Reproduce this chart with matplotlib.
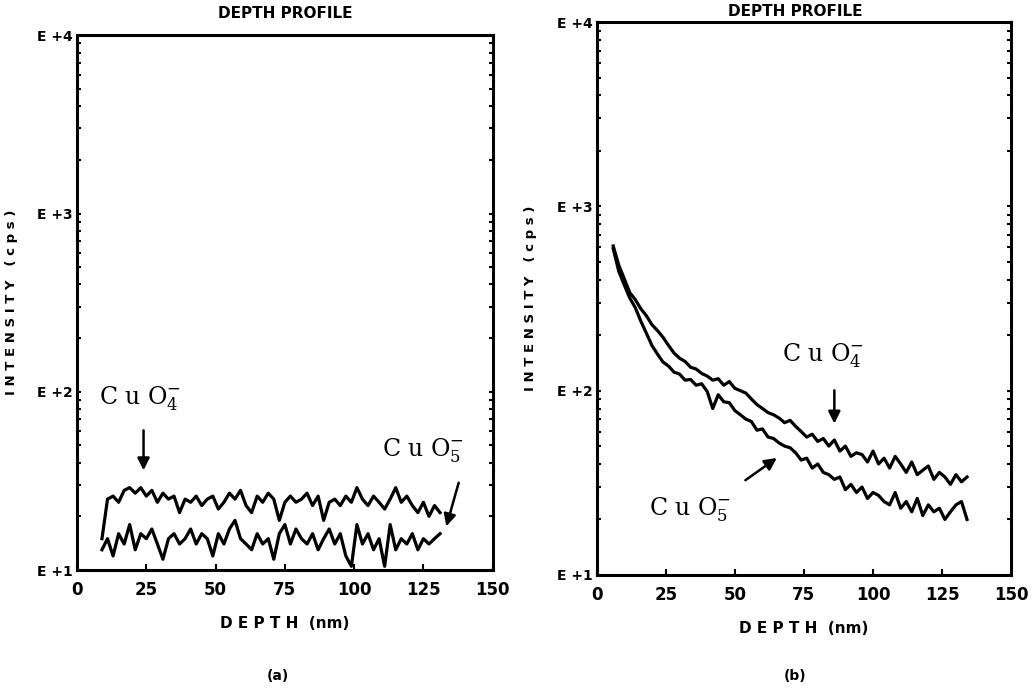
import numpy as np
import matplotlib
matplotlib.use("Agg")
import matplotlib.pyplot as plt
from matplotlib.ticker import FixedLocator, FixedFormatter, LogLocator, NullFormatter

plt.rcParams['font.family'] = ['Liberation Sans Narrow', 'DejaVu Sans']
plt.rcParams['mathtext.fontset'] = 'custom'
plt.rcParams['mathtext.rm'] = 'DejaVu Serif'
plt.rcParams['mathtext.it'] = 'DejaVu Serif'

# panel (a): flat profiles
depth_a = np.arange(9, 132, 2)
cuo4_a = [15, 25, 26, 24, 28, 29, 27, 29, 26, 28,
          24, 27, 25, 26, 21, 25, 24, 26, 23, 25,
          26, 22, 24, 27, 25, 28, 23, 21, 26, 24,
          27, 25, 19, 24, 26, 24, 25, 27, 23, 26,
          19, 24, 25, 23, 26, 24, 29, 25, 23, 26,
          24, 22, 25, 29, 24, 26, 23, 21, 24, 20,
          23, 21]
cuo5_a = [13, 15, 12, 16, 14, 18, 13, 16, 15, 17,
          14, 11.5, 15, 16, 14, 15, 17, 14, 16, 15,
          12, 16, 14, 17, 19, 15, 14, 13, 16, 14,
          15, 11.5, 16, 18, 14, 17, 15, 14, 16, 13,
          15, 17, 14, 16, 12, 10.5, 18, 14, 16, 13,
          15, 10.5, 18, 13, 15, 14, 16, 13, 15, 14,
          15, 16]

# panel (b): decaying profiles
depth_b = np.arange(6, 135, 2)
cuo4_b = [610, 480, 405, 340, 312, 278, 255, 228, 212, 195,
          176, 160, 150, 144, 134, 131, 124, 120, 114, 116,
          107, 112, 103, 100, 97, 90, 84, 80, 76, 74,
          71, 67, 69, 64, 60, 56, 58, 53, 55, 50,
          54, 47, 50, 44, 46, 45, 41, 47, 40, 43,
          38, 44, 40, 36, 41, 35, 37, 39, 33, 36,
          34, 31, 35, 32, 34]
cuo5_b = [590, 445, 375, 318, 282, 238, 205, 176, 158, 143,
          136, 126, 123, 114, 115, 107, 109, 99, 80, 95,
          87, 86, 78, 74, 70, 68, 61, 62, 56, 55,
          52, 50, 49, 46, 42, 43, 38, 40, 36, 35,
          33, 34, 29, 31, 28, 30, 26, 28, 27, 25,
          24, 28, 23, 25, 22, 26, 21, 24, 22, 23,
          20, 22, 24, 25, 20]

x_ticks = [0, 25, 50, 75, 100, 125, 150]
y_ticks = [10, 100, 1000, 10000]
y_tick_labels = ['E +1', 'E +2', 'E +3', 'E +4']

fig = plt.figure(figsize=(10.34, 6.91), dpi=100)
ax_a = fig.add_axes([0.0745, 0.175, 0.402, 0.774])
ax_b = fig.add_axes([0.577, 0.168, 0.401, 0.800])


def style_axes(ax):
    ax.set_yscale('log')
    ax.set_xlim(0, 150)
    ax.set_ylim(10, 10000)
    for s in ax.spines.values():
        s.set_linewidth(2.2)
    ax.xaxis.set_major_locator(FixedLocator(x_ticks))
    ax.yaxis.set_major_locator(FixedLocator(y_ticks))
    ax.yaxis.set_major_formatter(FixedFormatter(y_tick_labels))
    ax.yaxis.set_minor_locator(LogLocator(base=10, subs=np.arange(2, 10)))
    ax.yaxis.set_minor_formatter(NullFormatter())
    ax.tick_params(axis='x', direction='in', length=4, width=1.5, pad=8,
                   labelsize=12, top=False)
    ax.tick_params(axis='y', which='both', direction='in', length=3, width=1.5,
                   right=True, pad=3, labelsize=10)
    for lab in ax.get_xticklabels() + ax.get_yticklabels():
        lab.set_fontweight('bold')
    ax.set_xlabel('D E P T H  (nm)', fontsize=11, fontweight='bold', labelpad=12)
    ax.set_ylabel('I N T E N S I T Y   ( c p s )', fontsize=9.5,
                  fontweight='bold', labelpad=14)


style_axes(ax_a)
style_axes(ax_b)

ax_a.plot(depth_a, cuo4_a, color='black', lw=2.3)
ax_a.plot(depth_a, cuo5_a, color='black', lw=2.3)
ax_b.plot(depth_b, cuo4_b, color='black', lw=2.3)
ax_b.plot(depth_b, cuo5_b, color='black', lw=2.3)

lab_kw = dict(fontsize=17, family='DejaVu Serif', color='black')
arr_kw = dict(arrowstyle='-|>', color='black', lw=1.8, mutation_scale=18)

ax_a.text(8, 92, 'C u O$_{4}^{-}$', ha='left', va='center', **lab_kw)
ax_a.annotate('', xy=(24, 35), xytext=(24, 63), arrowprops=arr_kw)
ax_a.text(110, 47, 'C u O$_{5}^{-}$', ha='left', va='center', **lab_kw)
ax_a.annotate('', xy=(133, 17), xytext=(138, 32), arrowprops=arr_kw,
              annotation_clip=False)

ax_b.text(67, 155, 'C u O$_{4}^{-}$', ha='left', va='center', **lab_kw)
ax_b.annotate('', xy=(86, 64), xytext=(86, 104), arrowprops=arr_kw)
ax_b.text(19, 22.5, 'C u O$_{5}^{-}$', ha='left', va='center', **lab_kw)
ax_b.annotate('', xy=(66, 44), xytext=(53, 32), arrowprops=arr_kw)

fig.text(285 / 1034, 1 - 13 / 691, 'DEPTH PROFILE', ha='center', va='center',
         fontsize=11, fontweight='bold')
fig.text(795 / 1034, 1 - 12 / 691, 'DEPTH PROFILE', ha='center', va='center',
         fontsize=11, fontweight='bold')
fig.text(278 / 1034, 1 - 676 / 691, '(a)', ha='center', va='center',
         fontsize=10, fontweight='bold')
fig.text(795 / 1034, 1 - 676 / 691, '(b)', ha='center', va='center',
         fontsize=10, fontweight='bold')

fig.savefig('out.png', dpi=100, facecolor='white')
